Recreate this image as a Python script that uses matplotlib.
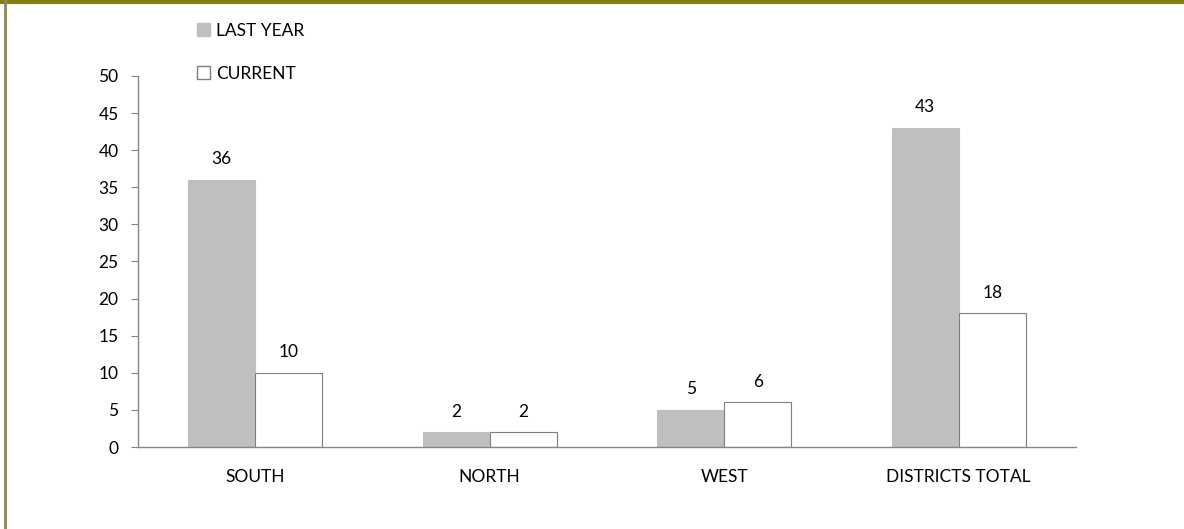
import numpy as np
import matplotlib
matplotlib.use("Agg")
import matplotlib.pyplot as plt
from matplotlib.patches import Patch
from matplotlib.lines import Line2D

# datos
categorias = ["SOUTH", "NORTH", "WEST", "DISTRICTS TOTAL"]
last_year = [36, 2, 5, 43]
current = [10, 2, 6, 18]

plt.rcParams['font.family'] = ['Lato', 'DejaVu Sans']
fs = 12.5

fig = plt.figure(figsize=(11.84, 5.29), dpi=100)
ax = fig.add_axes([138/1184, 82/529, (1076-138)/1184, (447-76)/529])

x = np.arange(len(categorias))
w = 0.286
b1 = ax.bar(x - w/2, last_year, w, color="#bfbfbf", edgecolor="#bfbfbf", linewidth=0.8)
b2 = ax.bar(x + w/2, current, w, color="white", edgecolor="#7f7f7f", linewidth=0.8)

for bars in (b1, b2):
    for r in bars:
        ax.annotate(str(int(r.get_height())), (r.get_x() + r.get_width()/2, r.get_height()),
                    xytext=(0, 9), textcoords="offset points", ha="center", va="bottom",
                    fontsize=fs, color="black")

ax.set_xlim(-0.5, len(categorias) - 0.5)
ax.set_ylim(0, 50)
ax.set_yticks(range(0, 51, 5))
ax.set_xticks(x)
ax.set_xticklabels(categorias)
ax.tick_params(axis="x", length=0, pad=16, labelsize=fs)
ax.tick_params(axis="y", length=5, color="#868686", pad=9, labelsize=fs)
for s in ("top", "right"):
    ax.spines[s].set_visible(False)
for s in ("left", "bottom"):
    ax.spines[s].set_color("#868686")
    ax.spines[s].set_linewidth(1)

handles = [Patch(facecolor="#bfbfbf", edgecolor="#bfbfbf"),
           Patch(facecolor="white", edgecolor="#7f7f7f")]
fig.legend(handles, ["LAST YEAR", "CURRENT"], loc="upper left",
           bbox_to_anchor=(181/1184, 1 - 7/529), frameon=False, fontsize=fs,
           handlelength=0.75, handleheight=0.75, handletextpad=0.35, labelspacing=1.55)

# marco
fig.add_artist(Line2D([0, 1], [1 - 1.5/529, 1 - 1.5/529], transform=fig.transFigure,
                      color="#857f10", linewidth=3))
fig.add_artist(Line2D([5/1184, 5/1184], [0, 1], transform=fig.transFigure,
                      color="#8c845a", linewidth=2))

fig.savefig("out.png", dpi=100)
